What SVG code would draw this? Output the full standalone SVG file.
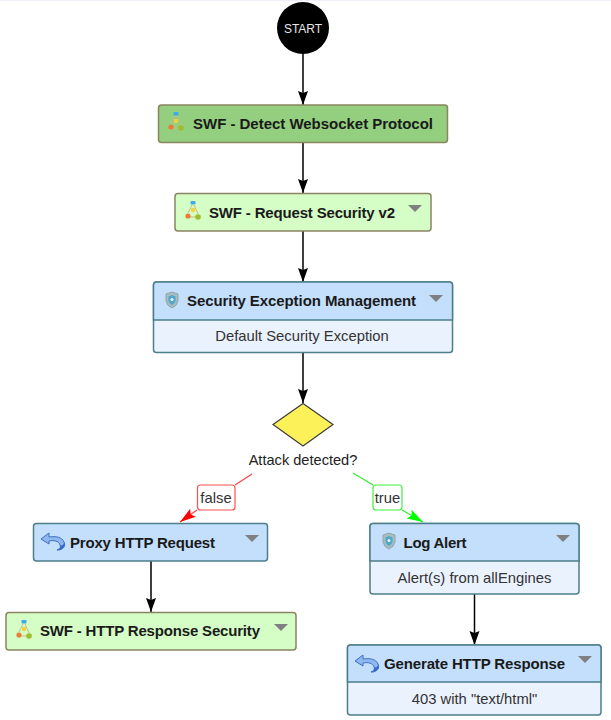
<svg xmlns="http://www.w3.org/2000/svg" xmlns:xlink="http://www.w3.org/1999/xlink" width="611" height="720" viewBox="0 0 611 720">
<style>
text{font-family:"Liberation Sans",Arial,sans-serif;fill:#1a1a1a}
.t{font-size:15px;font-weight:bold}
.s{font-size:14.800px;text-anchor:middle;fill:#333}
.l{font-size:14.600px;text-anchor:middle;fill:#222}
.g{stroke:#8a8460;stroke-width:1.500}
.b{stroke:#4c7f8a;stroke-width:1.500}
.hb{fill:#c3dffc}.bb{fill:#eaf2fe}.lg{fill:#d5fdc6}
.c{stroke:#000;stroke-width:1.500;fill:none}
.tri{fill:#808080}
</style>
<defs>
<marker id="k" markerUnits="userSpaceOnUse" markerWidth="15" markerHeight="11" refX="14" refY="5" orient="auto"><path d="M0 0L14 5L0 10L2 5Z" fill="#000"/></marker>
<marker id="r" markerUnits="userSpaceOnUse" markerWidth="17" markerHeight="12" refX="16" refY="5" orient="auto"><path d="M0 0L16 5L0 10L3 5Z" fill="#ff0000"/></marker>
<marker id="gn" markerUnits="userSpaceOnUse" markerWidth="17" markerHeight="12" refX="16" refY="5" orient="auto"><path d="M0 0L16 5L0 10L3 5Z" fill="#00ff00"/></marker>
<g id="flow">
<path d="M-1 -7L-5 1M1 -7L5 2M-5 5L5 5" stroke="#c9b98b" stroke-width="1" fill="none"/>
<rect x="-2.500" y="-11" width="5" height="3.500" rx="1" fill="#3fa9e6"/>
<circle cx="0" cy="-2" r="2.200" fill="#f3d13c"/>
<circle cx="-5" cy="4" r="2.600" fill="#ee7a37"/>
<circle cx="5" cy="5" r="2.800" fill="#9fbc2a"/>
</g>
<g id="shield">
<path d="M0 -8L6 -6L6 1Q5 6 0 8Q-5 6 -6 1L-6 -6Z" fill="#a6bcc0" stroke="#90a6ab"/>
<path d="M0 -5L3.500 -3.500L3.500 1Q3 3.500 0 5Q-3 3.500 -3.500 1L-3.500 -3.500Z" fill="#4fa7c9"/>
<circle cx="0" cy="-0.500" r="1.500" fill="#e8f4f8"/>
</g>
<g id="ret">
<path d="M-4 -9L-12 -3L-4 2L-4 -1C1 -2 6 -1 7 3C8 5 7 7 4 8L5 8C10 8 13 4 11 0C9 -5 3 -6 -4 -5Z" fill="#8fb8ee" stroke="#3f6fc4"/>
<path d="M4 8C10 8 13 4 11 0C11 3 9 4 7 3C8 5 7 7 4 8Z" fill="#3467c8"/>
</g>
</defs>
<rect x="0" y="0" width="611" height="720" fill="#fff"/>
<rect x="0" y="0" width="611" height="1" fill="#eef1f8"/>
<g id="connectors">
<path class="c" d="M303 54V105" marker-end="url(#k)"/>
<path class="c" d="M303 143V193" marker-end="url(#k)"/>
<path class="c" d="M303 231V282" marker-end="url(#k)"/>
<path class="c" d="M303 352V403" marker-end="url(#k)"/>
<path d="M252 474L235 485M197 510L180 522" stroke="#ff4040" stroke-width="1.200" fill="none" marker-end="url(#r)"/>
<path d="M353 473L373 485M402 510L423 522" stroke="#30f030" stroke-width="1.200" fill="none" marker-end="url(#gn)"/>
<path class="c" d="M151 561V612" marker-end="url(#k)"/>
<path class="c" d="M474.500 594V645" marker-end="url(#k)"/>
</g>
<g id="start">
<circle cx="303" cy="28" r="26" fill="#000"/>
<text x="303" y="32.500" font-size="12" text-anchor="middle" style="fill:#e6e6e6">START</text>
</g>
<g id="detect">
<rect x="158.500" y="105" width="289" height="37.500" rx="3" fill="#93cf7f" class="g"/>
<use xlink:href="#flow" href="#flow" x="176" y="123"/>
<text class="t" x="193" y="129" textLength="240">SWF - Detect Websocket Protocol</text>
</g>
<g id="request">
<rect x="175" y="193.500" width="256" height="37.500" rx="3" class="lg g"/>
<use xlink:href="#flow" href="#flow" x="193" y="212"/>
<text class="t" x="209" y="218" textLength="186">SWF - Request Security v2</text>
<path class="tri" d="M408 205H422L415 212Z"/>
</g>
<g id="exception">
<rect x="153.500" y="282" width="299" height="70.500" rx="3" class="bb b"/>
<path d="M153.500 320V285a3 3 0 0 1 3-3H449.500a3 3 0 0 1 3 3V320Z" class="hb b"/>
<use xlink:href="#shield" href="#shield" x="172" y="300"/>
<text class="t" x="187" y="306" textLength="229">Security Exception Management</text>
<path class="tri" d="M429 295H443L436 302Z"/>
<text class="s" x="302" y="341">Default Security Exception</text>
</g>
<g id="decision">
<path d="M303 403.500L333 424.500L303 446L273 424.500Z" fill="#fdf15a" stroke="#3c3c3c" stroke-width="1.200"/>
<text class="l" x="303" y="465">Attack detected?</text>
</g>
<g id="label-false">
<rect x="197.500" y="485" width="37.500" height="25" rx="3" fill="#fff" stroke="#ff5050" stroke-width="1.200"/>
<text class="s" x="216" y="503">false</text>
</g>
<g id="label-true">
<rect x="373" y="485" width="29" height="25" rx="3" fill="#fff" stroke="#40f040" stroke-width="1.200"/>
<text class="s" x="387.500" y="503">true</text>
</g>
<g id="proxy">
<rect x="33.500" y="523.500" width="234" height="37.500" rx="3" class="hb b"/>
<use xlink:href="#ret" href="#ret" x="53" y="542"/>
<text class="t" x="70" y="548" textLength="145">Proxy HTTP Request</text>
<path class="tri" d="M245 535H259L252 542Z"/>
</g>
<g id="response-security">
<rect x="6" y="612.500" width="290" height="37.500" rx="3" class="lg g"/>
<use xlink:href="#flow" href="#flow" x="24" y="631"/>
<text class="t" x="40" y="636" textLength="220">SWF - HTTP Response Security</text>
<path class="tri" d="M274 624H288L281 631Z"/>
</g>
<g id="log-alert">
<rect x="370" y="523.500" width="209" height="70.500" rx="3" class="bb b"/>
<path d="M370 561V526.500a3 3 0 0 1 3-3H576a3 3 0 0 1 3 3V561Z" class="hb b"/>
<use xlink:href="#shield" href="#shield" x="389" y="541"/>
<text class="t" x="403.500" y="548" textLength="63">Log Alert</text>
<path class="tri" d="M556 535H570L563 542Z"/>
<text class="s" x="474.500" y="583">Alert(s) from allEngines</text>
</g>
<g id="generate">
<rect x="347.500" y="645" width="253.500" height="70" rx="3" class="bb b"/>
<path d="M347.500 682V648a3 3 0 0 1 3-3H598a3 3 0 0 1 3 3V682Z" class="hb b"/>
<use xlink:href="#ret" href="#ret" x="367" y="664"/>
<text class="t" x="384" y="669" textLength="181">Generate HTTP Response</text>
<path class="tri" d="M578 656H592L585 663Z"/>
<text class="s" x="474.500" y="704">403 with "text/html"</text>
</g>
</svg>
